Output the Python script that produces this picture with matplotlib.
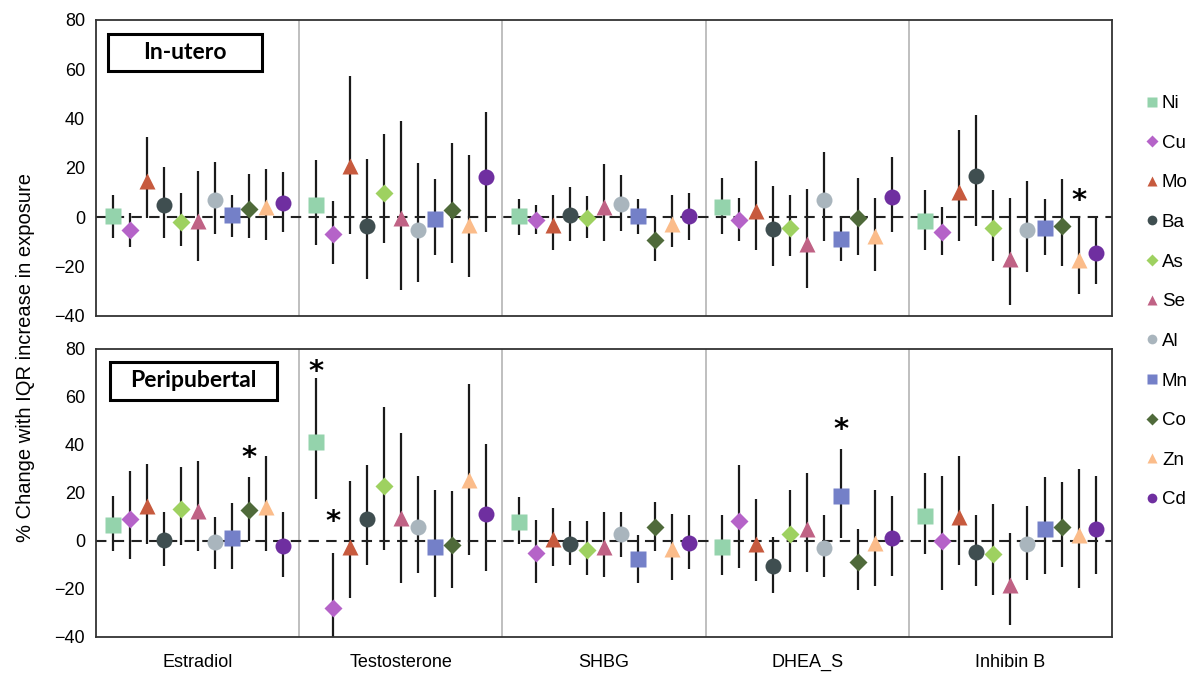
import numpy as np
import matplotlib.pyplot as plt
from matplotlib.lines import Line2D
from matplotlib.patches import Rectangle

plt.rcParams['font.family'] = ['Liberation Sans', 'DejaVu Sans']

hormones = ["Estradiol", "Testosterone", "SHBG", "DHEA_S", "Inhibin B"]
metals = ["Ni", "Cu", "Mo", "Ba", "As", "Se", "Al", "Mn", "Co", "Zn", "Cd"]
colors = ["#94d3ac", "#b563c8", "#c75a3e", "#3f4e50", "#9ed160", "#c06285",
          "#a9b5bd", "#7480c8", "#4f6a3a", "#fbbc8a", "#6f2fa0"]
markers = ["s", "D", "^", "o", "D", "^", "o", "s", "D", "^", "o"]

# In-utero: estimate, lower CI, upper CI (rows = hormones, cols = metals)
utero_est = [
    [0.3, -5.3, 14.6, 5.1, -1.8, -1.4, 7.0, 0.8, 3.5, 4.1, 5.9],
    [5.1, -6.8, 20.7, -3.4, 9.9, -0.5, -5.1, -0.8, 3.1, -3.2, 16.2],
    [0.4, -1.2, -3.2, 1.1, -0.5, 4.2, 5.3, 0.3, -9.1, -2.7, 0.4],
    [4.1, -1.1, 2.7, -4.6, -4.3, -10.7, 7.0, -8.8, -0.5, -7.8, 8.4],
    [-1.4, -6.1, 10.4, 16.9, -4.2, -16.8, -5.0, -4.5, -3.6, -17.3, -14.3],
]
utero_lo = [
    [-8.5, -12.2, -0.3, -8.5, -11.5, -17.6, -6.8, -8.0, -8.5, -9.1, -6.1],
    [-11.1, -18.9, -6.8, -25.0, -10.4, -29.3, -26.4, -15.3, -18.4, -24.2, -6.1],
    [-7.3, -6.8, -13.4, -9.7, -8.6, -9.7, -5.4, -6.8, -17.7, -12.2, -9.1],
    [-6.8, -9.7, -13.4, -19.6, -15.8, -28.6, -9.7, -17.7, -15.3, -21.9, -6.1],
    [-13.4, -15.3, -9.7, -3.6, -17.7, -35.4, -22.0, -15.3, -19.6, -31.2, -26.9],
]
utero_hi = [
    [9.2, 1.8, 32.4, 20.3, 9.9, 18.9, 22.4, 9.2, 17.7, 19.6, 18.4],
    [23.1, 6.6, 57.4, 23.8, 33.6, 39.1, 22.0, 15.3, 30.0, 25.1, 42.7],
    [7.4, 4.9, 9.2, 12.2, 8.5, 21.5, 17.2, 7.4, 0.0, 9.2, 9.9],
    [15.8, 8.0, 22.6, 12.8, 9.2, 11.6, 26.4, 0.7, 15.8, 8.0, 24.5],
    [11.1, 4.3, 35.5, 41.5, 11.1, 8.0, 14.7, 7.4, 15.3, -0.5, 0.0],
]

# Peripubertal
peri_est = [
    [6.8, 9.0, 14.6, 0.6, 13.3, 12.4, -0.6, 1.3, 12.8, 14.0, -1.9],
    [41.4, -28.1, -2.5, 9.3, 22.9, 9.6, 5.7, -2.5, -1.7, 25.3, 11.3],
    [8.1, -4.9, 0.7, -1.3, -3.6, -2.5, 3.1, -7.6, 5.8, -3.5, -0.7],
    [-2.6, 8.3, -1.4, -10.3, 2.8, 5.0, -2.8, 18.8, -8.6, -0.8, 1.3],
    [10.6, 0.1, 10.0, -4.4, -5.4, -18.2, -1.3, 4.9, 5.8, 2.5, 4.9],
]
peri_lo = [
    [-4.3, -7.4, -1.1, -10.6, -1.8, -4.3, -11.8, -11.8, 0.0, -4.3, -15.0],
    [17.6, -45.0, -23.9, -10.0, -3.9, -17.5, -13.2, -23.3, -19.4, -5.7, -12.5],
    [-1.1, -17.5, -10.6, -10.0, -14.3, -15.0, -6.8, -17.5, -4.3, -16.1, -11.8],
    [-14.3, -11.3, -16.7, -21.8, -13.1, -13.1, -15.0, 1.4, -20.6, -18.8, -14.4],
    [-5.6, -20.6, -10.0, -18.9, -22.5, -35.0, -16.3, -13.8, -10.7, -19.6, -13.8],
]
peri_hi = [
    [18.9, 29.0, 32.1, 11.9, 31.0, 33.3, 10.1, 15.7, 26.5, 35.3, 12.1],
    [67.9, -5.0, 25.1, 31.5, 55.8, 45.1, 27.1, 21.3, 20.8, 65.4, 40.3],
    [18.3, 8.9, 13.9, 8.2, 8.2, 12.1, 11.9, 2.5, 16.4, 11.4, 10.7],
    [10.7, 31.5, 17.6, 1.8, 21.4, 28.3, 10.7, 38.5, 5.0, 21.4, 18.9],
    [28.3, 27.2, 35.3, 10.7, 15.3, 3.3, 14.7, 26.5, 24.6, 30.1, 27.2],
]

# significance stars: (hormone index, metal index, y position)
utero_stars = [(4, 9, 9.2)]
peri_stars = [(0, 8, 37.5), (1, 0, 73.3), (1, 1, 11.0), (3, 7, 49.2)]

fig = plt.figure(figsize=(12.02, 6.75), dpi=100)
ax1 = fig.add_axes([0.0799, 0.532, 0.8453, 0.4385])
ax2 = fig.add_axes([0.0799, 0.0563, 0.8453, 0.4267])

step = 0.0837
sizes = {"s": 11, "D": 9, "^": 12, "o": 11.5}

def draw_panel(ax, est, lo, hi, stars, label, box):
    est = np.array(est)
    lo = np.array(lo)
    hi = np.array(hi)
    for j in range(len(metals)):
        x = np.arange(len(hormones)) + (j - 5) * step
        ax.vlines(x, lo[:, j], hi[:, j], color="#1a1a1a", lw=1.6, zorder=2)
        ax.plot(x, est[:, j], linestyle="none", marker=markers[j],
                ms=sizes[markers[j]], color=colors[j], mec="none", zorder=3)
    ax.axhline(0, color="#222222", lw=1.5, dashes=(5, 3.5), zorder=2.5)
    for b in range(1, len(hormones)):
        ax.axvline(b - 0.5, color="#b4b4b4", lw=1.2, zorder=1)
    for h, m, yv in stars:
        # the asterisk glyph sits high in its box, so nudge it down a bit
        ax.annotate("*", (h + (m - 5) * step, yv), xytext=(0, -5),
                    textcoords="offset points", ha="center", va="center",
                    fontsize=21, fontweight="semibold", family="DejaVu Sans")
    ax.set_xlim(-0.5, len(hormones) - 0.5)
    ax.set_ylim(-40, 80)
    ax.set_yticks(np.arange(-40, 81, 20))
    ax.tick_params(axis="both", length=0, labelsize=13, pad=8)
    for s in ax.spines.values():
        s.set_color("#333333")
        s.set_linewidth(1.3)
    x0, y0, x1, y1 = box
    ax.add_patch(Rectangle((x0, y0), x1 - x0, y1 - y0, transform=ax.transAxes,
                           fc="white", ec="black", lw=2.2, zorder=4))
    ax.text((x0 + x1) / 2, (y0 + y1) / 2, label, transform=ax.transAxes,
            ha="center", va="center", fontsize=16.5, fontweight="bold",
            family=["Lato", "DejaVu Sans"], zorder=5)

draw_panel(ax1, utero_est, utero_lo, utero_hi, utero_stars, "In-utero",
           (0.0118, 0.828, 0.1634, 0.953))
draw_panel(ax2, peri_est, peri_lo, peri_hi, peri_stars, "Peripubertal",
           (0.0138, 0.823, 0.178, 0.955))

ax1.set_xticks([])
ax2.set_xticks(np.arange(len(hormones)))
ax2.set_xticklabels(hormones, fontsize=13)
ax2.tick_params(axis="x", pad=12)

fig.text(0.021, 0.47, "% Change with IQR increase in exposure", rotation=90,
         ha="center", va="center", fontsize=14.5)

handles = [Line2D([], [], linestyle="none", marker=markers[j], color=colors[j],
                  mec="none", ms=7 if markers[j] != "D" else 6)
           for j in range(len(metals))]
fig.legend(handles, metals, loc="upper left", bbox_to_anchor=(1146 / 1202, 1 - 95 / 675),
           frameon=False, fontsize=13.5, labelspacing=1.2, handlelength=0.6,
           handletextpad=0.25, borderpad=0, borderaxespad=0)

fig.savefig("out.png", dpi=100)
